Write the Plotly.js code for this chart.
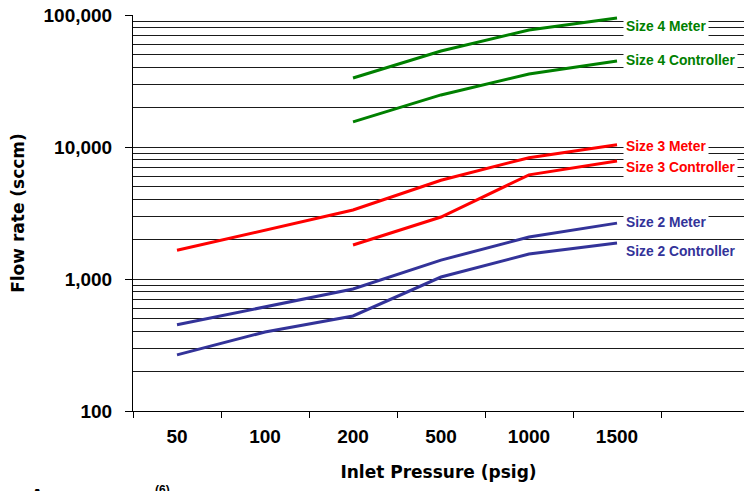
<!DOCTYPE html>
<html>
<head>
<meta charset="utf-8">
<script src="https://cdn.plot.ly/plotly-3.0.1.min.js"></script>
<style>html,body{margin:0;padding:0;background:#fff;}#chart{width:744px;height:491px;}</style>
</head>
<body>
<div id="chart"></div>
<script>
// Inlet pressure categories (psig)
const pressures = ['50', '100', '200', '500', '1000', '1500'];

// Flow rate (sccm) per series; null = no point at that pressure
const size4Meter      = [null, null, 33300, 53400, 77000, 94900];
const size4Controller = [null, null, 15500, 24800, 35700, 44800];
const size3Meter      = [1650, null, 3330, 5600, 8300, 10400];
const size3Controller = [null, null, 1810, 2950, 6150, 7830];
const size2Meter      = [450, null, 840, 1390, 2080, 2650];
const size2Controller = [266, 397, 525, 1035, 1546, 1874];

const seriesNames = ['Size 4 Meter', 'Size 4 Controller', 'Size 3 Meter', 'Size 3 Controller', 'Size 2 Meter', 'Size 2 Controller'];
const seriesData = [size4Meter, size4Controller, size3Meter, size3Controller, size2Meter, size2Controller];
const seriesColors = ['#008000', '#008000', '#ff0000', '#ff0000', '#333399', '#333399'];

const yTickVals = [100, 1000, 10000, 100000];
const yTickText = ['100', '1,000', '10,000', '100,000'];
const minorVals = [];
[100, 1000, 10000].forEach(d => { for (let k = 2; k <= 9; k++) minorVals.push(k * d); });

const LIB = 'Liberation Sans, Arial, sans-serif';
const DJV = 'DejaVu Sans, Verdana, sans-serif';

const traces = seriesData.map((ys, i) => ({
  x: pressures, y: ys, type: 'scatter', mode: 'lines', name: seriesNames[i],
  connectgaps: true, line: {color: seriesColors[i], width: 3}, hoverinfo: 'skip'
}));

// label vertical positions (paper coords)
const labelY = [0.972, 0.884, 0.669, 0.614, 0.475, 0.404];
const annotations = seriesNames.map((n, i) => ({
  text: n, xref: 'paper', yref: 'paper', x: 0.802, y: labelY[i],
  xanchor: 'left', yanchor: 'middle', showarrow: false,
  bgcolor: '#ffffff', borderpad: 2,
  font: {family: LIB, size: 13.8, color: seriesColors[i], weight: 'bold'}
}));
annotations.push({text: 'A', xref: 'paper', yref: 'paper', x: -0.172, y: -0.183, xanchor: 'left', yanchor: 'top', showarrow: false,
  font: {family: LIB, size: 20, color: '#000', weight: 'bold'}});
annotations.push({text: '(6)', xref: 'paper', yref: 'paper', x: 0.033, y: -0.176, xanchor: 'left', yanchor: 'top', showarrow: false,
  font: {family: LIB, size: 12, color: '#000', weight: 'bold'}});

const layout = {
  width: 744, height: 491,
  margin: {l: 133, r: 0, t: 15, b: 80},
  paper_bgcolor: '#fff', plot_bgcolor: '#fff',
  showlegend: false,
  font: {family: LIB, color: '#000'},
  xaxis: {
    type: 'category', categoryorder: 'array', categoryarray: pressures.concat([' ']),
    range: [-0.5, 6.443], tickson: 'boundaries', ticks: 'outside', ticklen: 6, tickcolor: '#000',
    ticklabelstandoff: 8,
    showline: true, linecolor: '#000', linewidth: 1, showgrid: false, zeroline: false,
    tickfont: {family: LIB, size: 19, weight: 'bold'},
    title: {text: 'Inlet Pressure (psig)', font: {family: DJV, size: 17, weight: 'bold'}, standoff: 20}
  },
  yaxis: {
    type: 'log', range: [2, 5], tickmode: 'array', tickvals: yTickVals, ticktext: yTickText,
    ticks: 'outside', ticklen: 7, tickcolor: '#000', ticklabelstandoff: 9,
    showline: true, linecolor: '#000', linewidth: 1,
    showgrid: true, gridcolor: '#1a1a1a', gridwidth: 1, zeroline: false,
    tickfont: {family: LIB, size: 19, weight: 'bold'},
    minor: {tickmode: 'array', tickvals: minorVals, showgrid: true, gridcolor: '#1a1a1a', gridwidth: 1, ticks: ''},
    title: {text: 'Flow rate (sccm)', font: {family: DJV, size: 17, weight: 'bold'}, standoff: 14}
  },
  annotations: annotations
};

Plotly.newPlot('chart', traces, layout, {displayModeBar: false, staticPlot: true});
</script>
</body>
</html>
